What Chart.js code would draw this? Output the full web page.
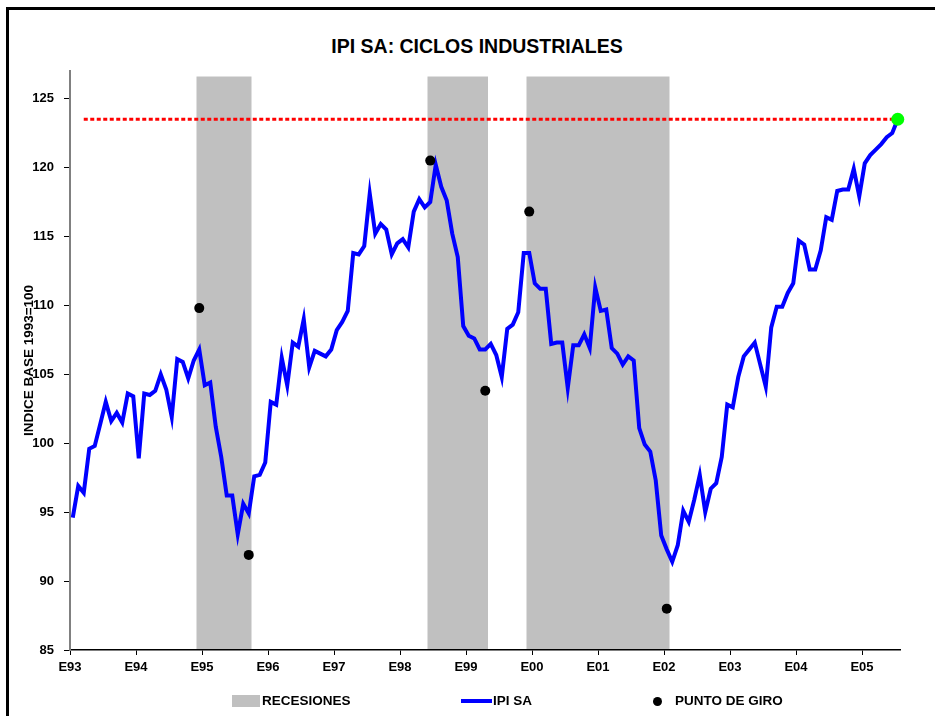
<!DOCTYPE html>
<html>
<head>
<meta charset="utf-8">
<script src="https://cdn.jsdelivr.net/npm/chart.js@4.4.1/dist/chart.umd.min.js"></script>
<style>
  body { margin:0; width:935px; height:716px; overflow:hidden; background:#fff; font-family:"Liberation Sans", Arial, sans-serif; }
  #frame { position:absolute; left:6px; top:7px; width:1000px; height:1000px; border-left:3px solid #000; border-top:3px solid #000; }
  #title { position:absolute; left:0; width:954px; top:35px; text-align:center; font-weight:bold; font-size:19.5px; }
  canvas { position:absolute; left:0; top:0; }
  .leg { position:absolute; top:693px; font-size:13.5px; font-weight:bold; line-height:16px; }
</style>
</head>
<body>
<div id="frame"></div>
<div id="title">IPI SA: CICLOS INDUSTRIALES</div>
<canvas id="ipiChart" width="935" height="716"></canvas>

<div class="leg" style="left:232px;top:695px;width:28px;height:12px;background:#C0C0C0"></div>
<div class="leg" style="left:262px">RECESIONES</div>
<div class="leg" style="left:461px;top:699px;width:31px;height:4px;background:#0000FF"></div>
<div class="leg" style="left:493px">IPI SA</div>
<div class="leg" style="left:653px;top:697px;width:9px;height:9px;border-radius:50%;background:#000"></div>
<div class="leg" style="left:675px">PUNTO DE GIRO</div>

<script>
// year ticks (every 12 months, Jan 1993 = month 0)
var yearLabels = ["E93","E94","E95","E96","E97","E98","E99","E00","E01","E02","E03","E04","E05"];
var yTicks = [85, 90, 95, 100, 105, 110, 115, 120, 125];

// IPI SA, monthly, Jan 1993 - Jul 2005
var ipiSA = [
  94.6, 96.9, 96.4, 99.6, 99.8,101.4,103.0,101.6,102.2,101.5,103.6,103.4,
  98.9,103.6,103.5,103.8,105.0,103.9,101.9,106.1,105.9,104.7,106.0,106.8,
 104.2,104.4,101.2, 99.0, 96.2, 96.2, 93.4, 95.6, 94.9, 97.6, 97.7, 98.6,
 103.0,102.8,106.2,104.2,107.3,107.0,109.0,105.5,106.7,106.5,106.3,106.8,
 108.2,108.8,109.6,113.8,113.7,114.3,118.1,115.2,115.9,115.5,113.7,114.5,
 114.8,114.2,116.8,117.7,117.1,117.5,120.2,118.6,117.6,115.2,113.5,108.5,
 107.8,107.6,106.8,106.8,107.2,106.4,104.8,108.3,108.6,109.5,113.8,113.8,
 111.6,111.2,111.2,107.2,107.3,107.3,104.0,107.1,107.1,107.9,106.9,111.3,
 109.6,109.7,106.9,106.5,105.7,106.3,106.0,101.1, 99.9, 99.4, 97.3, 93.3,
  92.3, 91.4, 92.6, 95.1, 94.3, 95.9, 97.7, 95.0, 96.7, 97.1, 99.0,102.8,
 102.6,104.8,106.3,106.8,107.3,105.7,104.1,108.4,109.9,109.9,110.9,111.6,
 114.7,114.4,112.6,112.6,114.0,116.4,116.2,118.3,118.4,118.4,119.9,117.9,
 120.3,120.9,121.3,121.7,122.2,122.5,123.5
];

// recessions: first and last month index
var recessions = [[23, 32], [65, 75], [83, 108]];
var recessionTop = 126.6;

// turning points
var turnMonths = [23, 32, 65, 75, 83, 108];
var turnValues = [109.8, 91.9, 120.5, 103.8, 116.8, 88.0];

// dotted line at the latest level starts here
var refStart = 2;

var lastIdx = ipiSA.length - 1;
var lastVal = ipiSA[lastIdx];
var fontFamily = '"Liberation Sans", Arial, sans-serif';
var tickFont = { family: fontFamily, size: 13, weight: 'bold' };

var recessionBands = {
  id: 'recessionBands',
  beforeDraw: function(chart) {
    var ctx = chart.ctx, area = chart.chartArea;
    var xs = chart.scales.x, ys = chart.scales.y;
    var top = ys.getPixelForValue(recessionTop);
    ctx.save();
    ctx.fillStyle = '#C0C0C0';
    recessions.forEach(function(r) {
      var x0 = xs.getPixelForValue(r[0] - 0.5);
      var x1 = xs.getPixelForValue(r[1] + 0.5);
      ctx.fillRect(x0, top, x1 - x0, area.bottom - top);
    });
    ctx.restore();
  }
};

var ipiConfig = {
  type: 'line',
  data: {
    datasets: [{
      label: 'IPI SA',
      data: ipiSA.map(function(v, i) { return { x: i, y: v }; }),
      borderColor: '#0000FF',
      borderWidth: 4,
      pointRadius: 0,
      tension: 0,
      order: 3
    }, {
      label: 'nivel actual',
      data: [{ x: refStart, y: lastVal }, { x: lastIdx, y: lastVal }],
      borderColor: '#FF0000',
      borderWidth: 3,
      borderDash: [4, 2.5],
      pointRadius: 0,
      order: 2
    }, {
      label: 'PUNTO DE GIRO',
      type: 'scatter',
      data: turnMonths.map(function(m, k) { return { x: m, y: turnValues[k] }; }),
      pointRadius: 5,
      backgroundColor: '#000',
      borderColor: '#000',
      borderWidth: 0,
      clip: false,
      order: 1
    }, {
      label: 'ultimo',
      type: 'scatter',
      data: [{ x: lastIdx, y: lastVal }],
      pointRadius: 6.5,
      backgroundColor: '#00FF00',
      borderColor: '#00FF00',
      borderWidth: 0,
      clip: false,
      order: 0
    }]
  },
  options: {
    responsive: false,
    animation: false,
    layout: { padding: { left: 16, top: 71, right: 34.5, bottom: 36 } },
    plugins: {
      legend: { display: false },
      tooltip: { enabled: false }
    },
    scales: {
      x: {
        type: 'linear',
        min: -0.5,
        max: lastIdx + 0.5,
        afterBuildTicks: function(s) {
          s.ticks = yearLabels.map(function(_, k) { return { value: -0.5 + 12 * k }; });
        },
        afterFit: function(s) { s.height = 30; },
        ticks: {
          callback: function(v, i) { return yearLabels[i]; },
          font: tickFont, color: '#000', autoSkip: false, maxRotation: 0, padding: 5
        },
        grid: { drawOnChartArea: false, tickLength: 5, color: '#000' },
        border: { color: '#000', width: 1.5 }
      },
      y: {
        min: 85,
        max: 127,
        afterBuildTicks: function(s) {
          s.ticks = yTicks.map(function(v) { return { value: v }; });
        },
        afterFit: function(s) { s.width = 54; },
        ticks: { font: tickFont, color: '#000', padding: 10 },
        grid: { drawOnChartArea: false, tickLength: 6, color: '#000' },
        border: { color: '#808080', width: 2 },
        title: {
          display: true,
          text: 'INDICE BASE 1993=100',
          font: { family: fontFamily, size: 13.5, weight: 'bold' },
          color: '#000',
          padding: { top: 5, bottom: 4 }
        }
      }
    }
  },
  plugins: [recessionBands]
};

var ipiChart = new Chart(document.getElementById('ipiChart'), ipiConfig);
</script>
</body>
</html>
